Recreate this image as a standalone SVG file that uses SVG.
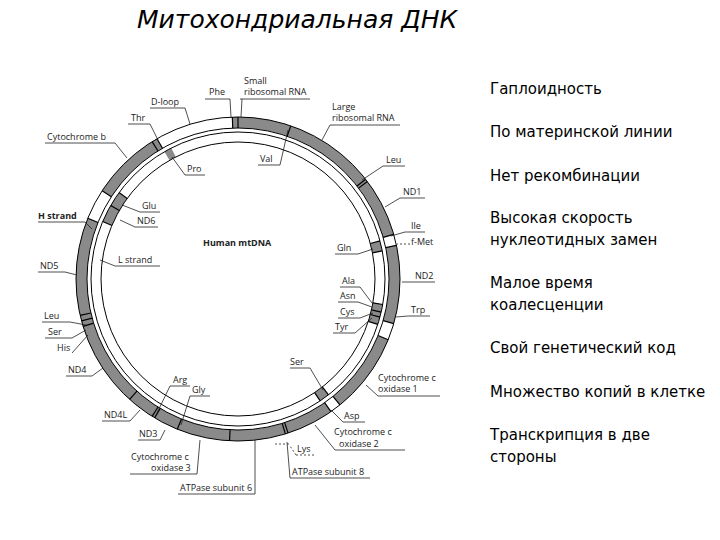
<svg xmlns="http://www.w3.org/2000/svg" width="720" height="540" viewBox="0 0 720 540">
<style>
.t{font-family:"DejaVu Sans",Verdana,sans-serif;font-size:15px;fill:#000}
.l{font-family:"Open Sans","Liberation Sans",sans-serif;font-size:9px;fill:#222}
.b{font-weight:bold}
.ln{stroke:#222;stroke-width:0.8;fill:none}
.go{fill:none;stroke:#8a8a8a;stroke-width:11}
.gi{fill:none;stroke:#8a8a8a;stroke-width:10}
.tk{stroke:#000;stroke-width:1.2}
</style>
<rect width="720" height="540" fill="#fff"/>
<text x="137" y="28" style="font-family:'DejaVu Sans',sans-serif;font-size:25px;font-style:italic" fill="#000">Митохондриальная ДНК</text>
<g id="list">
<text class="t" x="490" y="94">Гаплоидность</text>
<text class="t" x="490" y="137">По материнской линии</text>
<text class="t" x="490" y="181">Нет рекомбинации</text>
<text class="t" x="490" y="223">Высокая скорость</text>
<text class="t" x="490" y="245">нуклеотидных замен</text>
<text class="t" x="490" y="288">Малое время</text>
<text class="t" x="490" y="310">коалесценции</text>
<text class="t" x="490" y="353">Свой генетический код</text>
<text class="t" x="490" y="397">Множество копий в клетке</text>
<text class="t" x="490" y="440">Транскрипция в две</text>
<text class="t" x="490" y="462">стороны</text>
</g>
<g id="ring">
<g transform="translate(238 279)">
<g class="go">
<circle r="156.5" stroke-dasharray="207.5 2000" transform="rotate(-92)"/>
<circle r="156.5" stroke-dasharray="76.5 2000" transform="rotate(-12)"/>
<circle r="156.5" stroke-dasharray="79.2 2000" transform="rotate(22)"/>
<circle r="156.5" stroke-dasharray="401.5 2000" transform="rotate(55)"/>
<circle r="156.5" stroke-dasharray="73.7 2000" transform="rotate(213)"/>
</g>
<g class="gi">
<circle r="142" stroke-dasharray="32 2000" transform="rotate(203)"/>
<circle r="142" stroke-dasharray="7.5 2000" transform="rotate(240)"/>
<circle r="142" stroke-dasharray="10 2000" transform="rotate(-15)"/>
<circle r="142" stroke-dasharray="20 2000" transform="rotate(10)"/>
<circle r="142" stroke-dasharray="10 2000" transform="rotate(52)"/>
</g>
<g fill="none" stroke="#000" stroke-width="1">
<circle r="162"/><circle r="151"/><circle r="147"/><circle r="137"/>
</g>
<g class="tk">
<line x1="0" y1="-151" x2="0" y2="-162" transform="rotate(-2)"/>
<line x1="0" y1="-151" x2="0" y2="-162" transform="rotate(0)"/>
<line x1="0" y1="-151" x2="0" y2="-162" transform="rotate(19)"/>
<line x1="0" y1="-151" x2="0" y2="-162" transform="rotate(52)"/>
<line x1="0" y1="-151" x2="0" y2="-162" transform="rotate(53)"/>
<line x1="0" y1="-151" x2="0" y2="-162" transform="rotate(74)"/>
<line x1="0" y1="-151" x2="0" y2="-162" transform="rotate(78)"/>
<line x1="0" y1="-151" x2="0" y2="-162" transform="rotate(106)"/>
<line x1="0" y1="-151" x2="0" y2="-162" transform="rotate(112)"/>
<line x1="0" y1="-151" x2="0" y2="-162" transform="rotate(141)"/>
<line x1="0" y1="-151" x2="0" y2="-162" transform="rotate(145)"/>
<line x1="0" y1="-151" x2="0" y2="-162" transform="rotate(162)"/>
<line x1="0" y1="-151" x2="0" y2="-162" transform="rotate(163)"/>
<line x1="0" y1="-151" x2="0" y2="-162" transform="rotate(183)"/>
<line x1="0" y1="-151" x2="0" y2="-162" transform="rotate(202)"/>
<line x1="0" y1="-151" x2="0" y2="-162" transform="rotate(211)"/>
<line x1="0" y1="-151" x2="0" y2="-162" transform="rotate(212)"/>
<line x1="0" y1="-151" x2="0" y2="-162" transform="rotate(222)"/>
<line x1="0" y1="-151" x2="0" y2="-162" transform="rotate(253)"/>
<line x1="0" y1="-151" x2="0" y2="-162" transform="rotate(255)"/>
<line x1="0" y1="-151" x2="0" y2="-162" transform="rotate(257)"/>
<line x1="0" y1="-151" x2="0" y2="-162" transform="rotate(292)"/>
<line x1="0" y1="-151" x2="0" y2="-162" transform="rotate(303)"/>
<line x1="0" y1="-151" x2="0" y2="-162" transform="rotate(328)"/>
<line x1="0" y1="-151" x2="0" y2="-162" transform="rotate(330)"/>
<line x1="0" y1="-137" x2="0" y2="-147" transform="rotate(293)"/>
<line x1="0" y1="-137" x2="0" y2="-147" transform="rotate(300)"/>
<line x1="0" y1="-137" x2="0" y2="-147" transform="rotate(306)"/>
<line x1="0" y1="-137" x2="0" y2="-147" transform="rotate(75)"/>
<line x1="0" y1="-137" x2="0" y2="-147" transform="rotate(79)"/>
<line x1="0" y1="-137" x2="0" y2="-147" transform="rotate(100)"/>
<line x1="0" y1="-137" x2="0" y2="-147" transform="rotate(103)"/>
<line x1="0" y1="-137" x2="0" y2="-147" transform="rotate(105)"/>
<line x1="0" y1="-137" x2="0" y2="-147" transform="rotate(108)"/>
<line x1="0" y1="-137" x2="0" y2="-147" transform="rotate(142)"/>
<line x1="0" y1="-137" x2="0" y2="-147" transform="rotate(146)"/>
</g>
</g>
</g>
<g id="connectors" class="ln">
<path d="M240 99H310M242 99L241 117"/>
<path d="M205 99H230L231 117"/>
<path d="M150 108H185L190 124"/>
<path d="M128 124H150L158 140"/>
<path d="M45 143H115L127 158"/>
<path d="M330 125H400M330 125L322 140"/>
<path d="M258 165H280L288 130"/>
<path d="M205 175H185L172 157"/>
<path d="M405 166H383L362 180"/>
<path d="M425 198H400L385 207"/>
<path d="M425 232H405L391 236"/>
<path d="M410 244H397" stroke-dasharray="2 2"/>
<path d="M335 254H358L373 249"/>
<path d="M435 282H402"/>
<path d="M340 287H360L372 303M338 302H358L372 307M338 318H360L373 313M333 333H355L372 318"/>
<path d="M430 316H408L396 317"/>
<path d="M160 212H140L122 205"/>
<path d="M158 227H135L120 220"/>
<path d="M38 222H85L92 229"/>
<path d="M160 266H115L100 260"/>
<path d="M38 272H65L77 275"/>
<path d="M42 322H70L86 325M45 338H72L86 330M72 353L88 335"/>
<path d="M66 376H92L103 368"/>
<path d="M190 386H170L157 413"/>
<path d="M210 396H190L181 425"/>
<path d="M102 421H130L140 410"/>
<path d="M138 440H160L165 430"/>
<path d="M130 474H197L200 440"/>
<path d="M178 494H255V440"/>
<path d="M290 478H370M290 478L287 442"/>
<path d="M296 455H315M296 455L290 446M275 444H290" stroke-dasharray="2 2"/>
<path d="M335 450H405M335 450L315 425"/>
<path d="M343 422H365M343 422L331 410"/>
<path d="M290 368H310L323 390"/>
<path d="M378 396H440M378 396L366 385"/>
</g>
<g id="labels" class="l">
<text x="244" y="84">Small</text><text x="244" y="95">ribosomal RNA</text>
<text x="209" y="95">Phe</text>
<text x="151" y="105">D-loop</text>
<text x="131" y="121">Thr</text>
<text x="47" y="140">Cytochrome b</text>
<text x="332" y="110">Large</text><text x="332" y="121">ribosomal RNA</text>
<text x="260" y="162">Val</text>
<text x="187" y="172">Pro</text>
<text x="386" y="163">Leu</text>
<text x="403" y="195">ND1</text>
<text x="411" y="229">Ile</text>
<text x="411" y="245">f-Met</text>
<text x="337" y="251">Gln</text>
<text x="415" y="279">ND2</text>
<text x="342" y="284">Ala</text>
<text x="340" y="299">Asn</text>
<text x="340" y="315">Cys</text>
<text x="335" y="330">Tyr</text>
<text x="411" y="313">Trp</text>
<text x="142" y="209">Glu</text>
<text x="137" y="224">ND6</text>
<text class="b" x="38" y="219">H strand</text>
<text class="b" x="203" y="246">Human mtDNA</text>
<text x="118" y="263">L strand</text>
<text x="40" y="269">ND5</text>
<text x="44" y="319">Leu</text>
<text x="48" y="335">Ser</text>
<text x="57" y="351">His</text>
<text x="68" y="373">ND4</text>
<text x="173" y="383">Arg</text>
<text x="192" y="393">Gly</text>
<text x="104" y="418">ND4L</text>
<text x="139" y="437">ND3</text>
<text x="131" y="460">Cytochrome c</text><text x="151" y="471">oxidase 3</text>
<text x="180" y="491">ATPase subunit 6</text>
<text x="292" y="475">ATPase subunit 8</text>
<text x="297" y="452">Lys</text>
<text x="334" y="435">Cytochrome c</text><text x="339" y="447">oxidase 2</text>
<text x="344" y="419">Asp</text>
<text x="290" y="365">Ser</text>
<text x="378" y="381">Cytochrome c</text><text x="378" y="392">oxidase 1</text>
</g>
</svg>
